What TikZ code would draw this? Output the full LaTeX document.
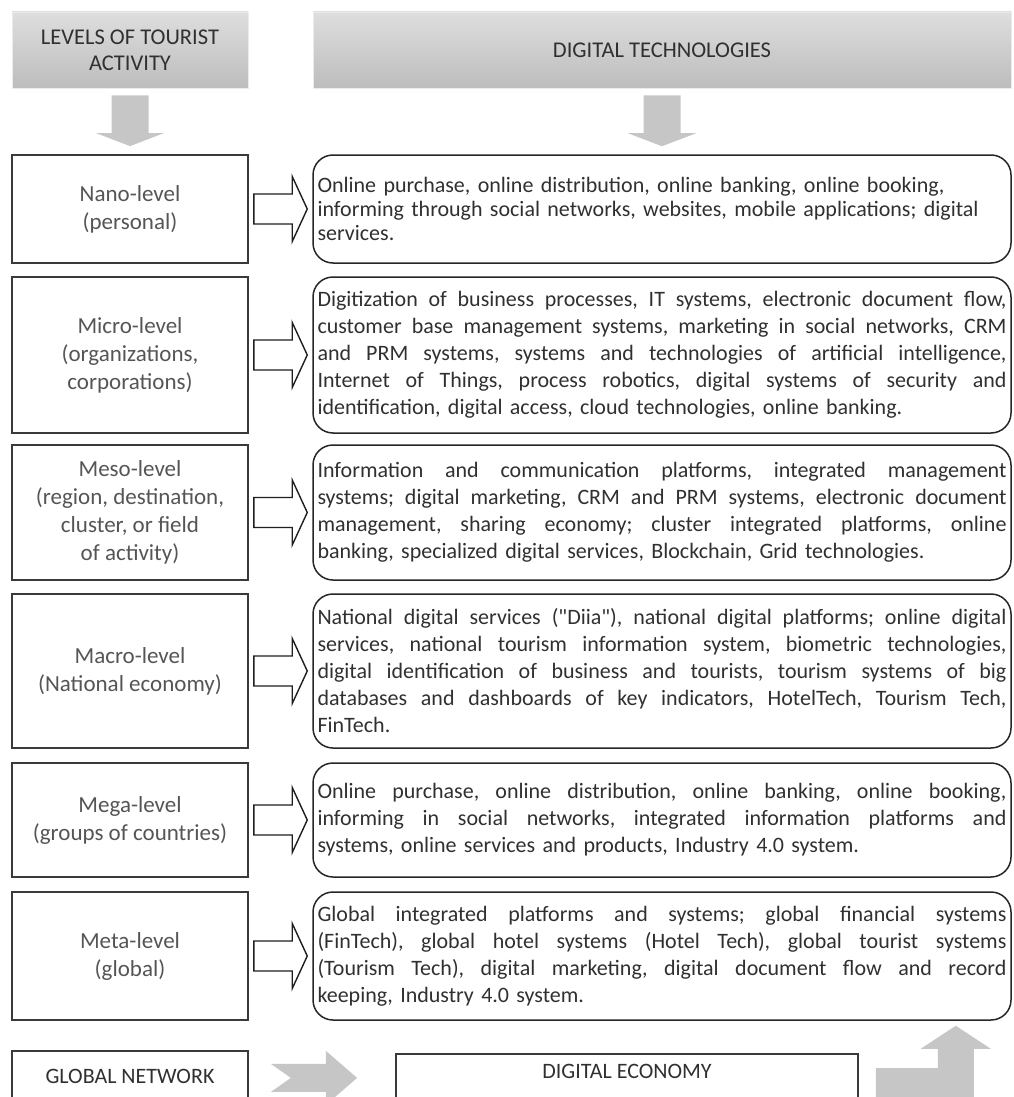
\documentclass[tikz,border=0pt]{standalone}
\usepackage{fontspec}
\setmainfont{Carlito}[Ligatures=TeXOff]
\usetikzlibrary{calc}
\definecolor{txtc}{HTML}{303030}
\definecolor{ltxt}{HTML}{555555}
\definecolor{boxc}{HTML}{3A3A3A}
\definecolor{arrowgray}{HTML}{C6C6C6}
\newcommand{\jl}[1]{\leavevmode\hbox to 689pt{\frenchspacing\spaceskip=\fontdimen2\font plus 1fil\relax #1}}
\newcommand{\hollowarrow}[2]{\draw[harrow] let \p1=(#1.east), \p2=(#2.west) in
  (\x1+5pt,\y1+15pt) -- (\x2-20pt,\y1+15pt) -- (\x2-20pt,\y1+32.5pt) -- (\x2-5pt,\y1)
  -- (\x2-20pt,\y1-32.5pt) -- (\x2-20pt,\y1-15pt) -- (\x1+5pt,\y1-15pt) -- cycle;}
\newcommand{\graydownarrow}[2]{\fill[garrow] let \p1=(#1.south), \p2=(#2.north) in
  (\x1-18.5pt,\y1-7pt) -- (\x1-18.5pt,\y2+21pt) -- (\x1-34pt,\y2+21pt) -- (\x1,\y2+8pt)
  -- (\x1+34pt,\y2+21pt) -- (\x1+18.5pt,\y2+21pt) -- (\x1+18.5pt,\y1-7pt) -- cycle;}
\begin{document}
\begin{tikzpicture}[x=1pt,y=-1pt,
  lvlbox/.style={draw=boxc, line width=1.8pt, minimum width=236pt, inner sep=0pt,
    align=center, text=ltxt, font=\fontsize{23}{28}\selectfont},
  techbox/.style={draw=black!85, line width=1.5pt, rounded corners=20pt, minimum width=698pt,
    text width=689pt, inner xsep=4.5pt, inner ysep=0pt, align=left, text=txtc,
    font=\fontsize{22}{27}\selectfont},
  hdr/.style={top color=black!13, bottom color=black!26, draw=black!8, line width=0.8pt,
    inner sep=0pt, align=center, text=txtc, font=\fontsize{22.5}{26}\selectfont},
  harrow/.style={draw=black!88, line width=1.4pt, fill=white, line join=miter},
  garrow/.style={fill=arrowgray},
  botbox/.style={draw=boxc, line width=1.8pt, inner ysep=4pt, text depth=45pt,
    anchor=north, text=txtc, font=\fontsize{22}{24}\selectfont}]

\useasboundingbox (0,0) rectangle (1013,1097);
\clip (0,0) rectangle (1013,1097);

% headers
\node[hdr, minimum width=236pt, minimum height=76pt] (H1) at (130,50) {LEVELS OF TOURIST\\ACTIVITY};
\node[hdr, minimum width=698pt, minimum height=76pt] (H2) at (662,50) {DIGITAL TECHNOLOGIES};

% level boxes
\node[lvlbox, minimum height=108pt] (L1) at (130,209) {Nano-level\\(personal)};
\node[lvlbox, minimum height=156pt] (L2) at (130,355) {Micro-level\\(organizations,\\corporations)};
\node[lvlbox, minimum height=135pt] (L3) at (130,512.5) {Meso-level\\(region, destination,\\cluster, or field\\of activity)};
\node[lvlbox, minimum height=154pt] (L4) at (130,671) {Macro-level\\(National economy)};
\node[lvlbox, minimum height=114pt] (L5) at (130,820) {Mega-level\\(groups of countries)};
\node[lvlbox, minimum height=128pt] (L6) at (130,956) {Meta-level\\(global)};

% technology boxes
\node[techbox, minimum height=108pt, font=\fontsize{22}{24}\selectfont] (R1) at (662,209) {Online purchase, online distribution, online banking, online booking,\\informing through social networks, websites, mobile applications; digital\\services.};
\node[techbox, minimum height=156pt] (R2) at (662,355) {\jl{Digitization of business processes, IT systems, electronic document flow,}\\\jl{customer base management systems, marketing in social networks, CRM}\\\jl{and PRM systems, systems and technologies of artificial intelligence,}\\\jl{Internet of Things, process robotics, digital systems of security and}\\identification, digital access, cloud technologies, online banking.};
\node[techbox, minimum height=135pt] (R3) at (662,512.5) {\jl{Information and communication platforms, integrated management}\\\jl{systems; digital marketing, CRM and PRM systems, electronic document}\\\jl{management, sharing economy; cluster integrated platforms, online}\\banking, specialized digital services, Blockchain, Grid technologies.};
\node[techbox, minimum height=154pt] (R4) at (662,671) {\jl{National digital services ("Diia"), national digital platforms; online digital}\\\jl{services, national tourism information system, biometric technologies,}\\\jl{digital identification of business and tourists, tourism systems of big}\\\jl{databases and dashboards of key indicators, HotelTech, Tourism Tech,}\\FinTech.};
\node[techbox, minimum height=114pt] (R5) at (662,820) {\jl{Online purchase, online distribution, online banking, online booking,}\\\jl{informing in social networks, integrated information platforms and}\\systems, online services and products, Industry 4.0 system.};
\node[techbox, minimum height=128pt] (R6) at (662,956) {\jl{Global integrated platforms and systems; global financial systems}\\\jl{(FinTech), global hotel systems (Hotel Tech), global tourist systems}\\\jl{(Tourism Tech), digital marketing, digital document flow and record}\\keeping, Industry 4.0 system.};

% down arrows
\graydownarrow{H1}{L1}
\graydownarrow{H2}{R1}

% hollow arrows
\hollowarrow{L1}{R1}
\hollowarrow{L2}{R2}
\hollowarrow{L3}{R3}
\hollowarrow{L4}{R4}
\hollowarrow{L5}{R5}
\hollowarrow{L6}{R6}

% bottom row
\node[botbox, minimum width=236pt, text height=29pt] (GN) at (130,1050) {GLOBAL NETWORK};
\node[botbox, minimum width=462pt, text height=21pt] (DE) at (627,1053) {DIGITAL ECONOMY};

\fill[garrow] let \p1=(GN.base east), \p2=(DE.west) in
  (\x1+22pt,\y1+20pt) -- (\x1+77pt,\y1+20pt) -- (\x1+77pt,\y1+33pt) -- (\x2-38pt,\y1+6pt)
  -- (\x1+77pt,\y1-21pt) -- (\x1+77pt,\y1-8pt) -- (\x1+22pt,\y1-8pt) -- (\x1+42pt,\y1+6pt) -- cycle;

\fill[garrow] let \p1=(DE.north east), \p2=(R6.south east) in
  (\x1+17pt,\y1-15pt) -- (\x2-74pt,\y1-15pt) -- (\x2-74pt,\y2-28pt) -- (\x2-91pt,\y2-28pt)
  -- (\x2-56pt,\y2-5pt) -- (\x2-21pt,\y2-28pt) -- (\x2-38pt,\y2-28pt) -- (\x2-38pt,\y1-51pt)
  -- (\x1+17pt,\y1-51pt) -- cycle;
\end{tikzpicture}
\end{document}
